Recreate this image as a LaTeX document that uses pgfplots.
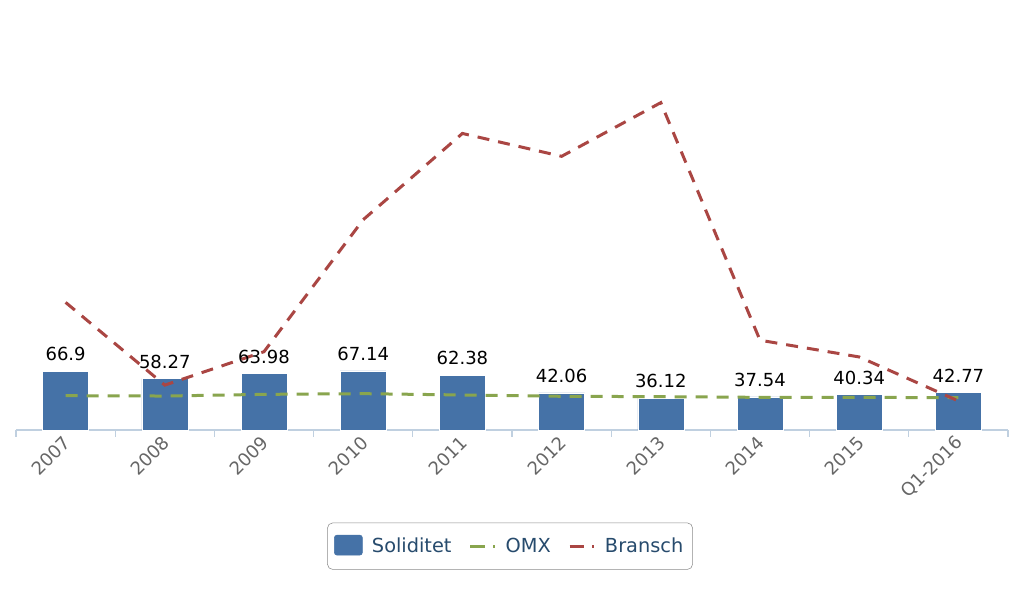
\documentclass[border=0pt]{standalone}
\usepackage{fontspec}
\setmainfont{DejaVu Sans}
\usepackage{pgfplots}
\pgfplotsset{compat=1.18}
\definecolor{barblue}{HTML}{4572A7}
\definecolor{omxgreen}{HTML}{89A54E}
\definecolor{branred}{HTML}{AA4643}
\definecolor{axisc}{HTML}{C0D0E0}
\definecolor{ticklab}{HTML}{666666}
\definecolor{legtext}{HTML}{274B6D}
\begin{document}
\begin{tikzpicture}
\useasboundingbox (0,0) rectangle (768pt,447.75pt);
\begin{axis}[
  at={(12pt,125.25pt)}, anchor=south west,
  width=744pt, height=264pt, scale only axis,
  xmin=-0.5, xmax=9.5, ymin=0, ymax=400,
  axis x line*=bottom, axis y line=none,
  axis line style={axisc, line width=0.9pt},
  xtick={0,...,9},
  xticklabels={2007,2008,2009,2010,2011,2012,2013,2014,2015,Q1-2016},
  major tick length=0pt,
  minor xtick={-0.5,0.5,1.5,2.5,3.5,4.5,5.5,6.5,7.5,8.5,9.5},
  minor tick length=5pt, tick align=outside,
  minor tick style={axisc, line width=0.9pt},
  xticklabel style={rotate=45, anchor=east, font=\fontsize{13.5}{15}\selectfont, text=ticklab, yshift=-6pt, xshift=-1pt},
  clip=false,
  legend columns=3,
  legend style={at={(0.498,-0.33)}, anchor=center, draw=black!45, rounded corners=4pt,
    font=\fontsize{14.5}{17}\selectfont\color{legtext}, inner xsep=5pt, inner ysep=9pt,
    /tikz/every odd column/.append style={column sep=5pt},
    /tikz/every even column/.append style={column sep=11pt}},
]
\addplot[ybar, bar width=34.5pt, fill=barblue, draw=white, line width=0.4pt,
  nodes near coords, point meta=explicit symbolic,
  nodes near coords style={font=\fontsize{13.5}{16}\selectfont, text=black, anchor=south, yshift=4pt},
  legend image code/.code={\fill[barblue, rounded corners=2pt] (0pt,-6.5pt) rectangle (21pt,8.5pt);}]
  table[x=x, y=y, meta=lab] {
x y lab
0 66.9 66.9
1 58.27 58.27
2 63.98 63.98
3 67.14 67.14
4 62.38 62.38
5 42.06 42.06
6 36.12 36.12
7 37.54 37.54
8 40.34 40.34
9 42.77 42.77
};
\addlegendentry{Soliditet}
\addplot[omxgreen, line width=2.25pt, dash pattern=on 9pt off 6.75pt,
  legend image code/.code={\draw[omxgreen, solid, line width=2.25pt] (0pt,0pt) -- (11pt,0pt); \draw[omxgreen, solid, line width=2pt] (17pt,0pt) -- (18.5pt,0pt);}]
  coordinates {(0,39) (1,38.6) (2,40.5) (3,41.3) (4,39.8) (5,38.3) (6,37.9) (7,37.1) (8,37.1) (9,36.7)};
\addlegendentry{OMX}
\addplot[branred, line width=2.25pt, dash pattern=on 9pt off 6.75pt,
  legend image code/.code={\draw[branred, solid, line width=2.25pt] (0pt,0pt) -- (11pt,0pt); \draw[branred, solid, line width=2pt] (17pt,0pt) -- (18.5pt,0pt);}]
  coordinates {(0,145) (1,51) (2,89) (3,239) (4,337) (5,311) (6,372) (7,102) (8,83) (9,33)};
\addlegendentry{Bransch}
\end{axis}
\end{tikzpicture}
\end{document}
